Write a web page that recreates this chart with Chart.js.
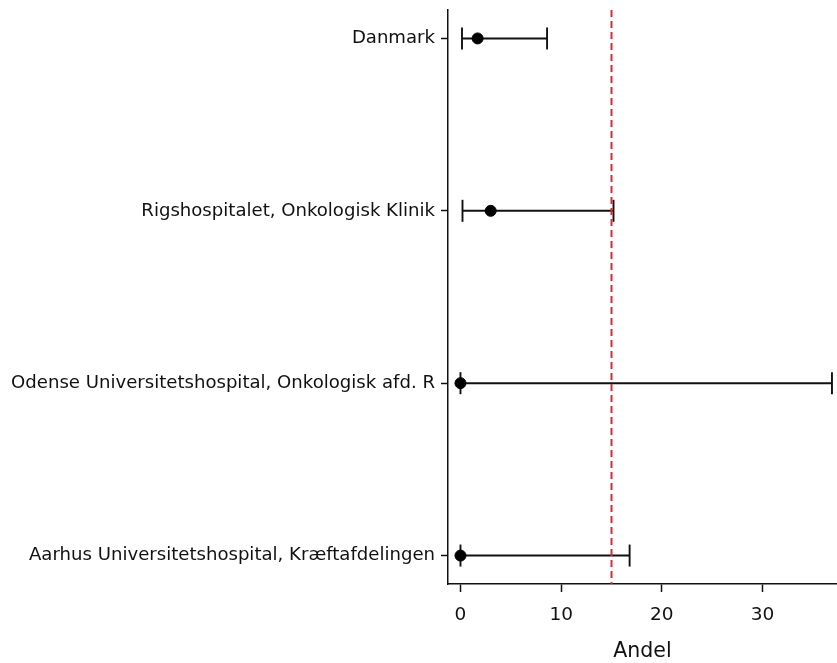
<!DOCTYPE html>
<html>
<head>
<meta charset="utf-8">
<script src="https://cdn.jsdelivr.net/npm/chart.js@4"></script>
<style>
html,body{margin:0;padding:0;background:#fff;}
#c{display:block;}
</style>
</head>
<body>
<canvas id="c" width="837" height="663"></canvas>
<script>
const categories = [
  "Danmark",
  "Rigshospitalet, Onkologisk Klinik",
  "Odense Universitetshospital, Onkologisk afd. R",
  "Aarhus Universitetshospital, Kræftafdelingen"
];
const estimates = [1.7, 3.0, 0, 0];
const lowerCI = [0.15, 0.2, 0, 0];
const upperCI = [8.6, 15.2, 36.9, 16.8];
const referenceValue = 15;
const xTicks = [0, 10, 20, 30];
const xTitle = "Andel";

const FONT = "'DejaVu Sans', sans-serif";
const yMin = -0.165, yMax = categories.length - 1 + 0.165;

const datasets = [];
categories.forEach((c, i) => {
  datasets.push({
    type: 'line',
    data: [{x: lowerCI[i], y: i}, {x: upperCI[i], y: i}],
    borderColor: '#111',
    borderWidth: 1.9,
    pointStyle: 'line',
    rotation: 90,
    pointRadius: 11,
    pointBorderWidth: 1.9,
    pointBorderColor: '#111',
    showLine: true,
    clip: false,
    order: 2
  });
});
datasets.push({
  type: 'scatter',
  data: estimates.map((v, i) => ({x: v, y: i})),
  backgroundColor: '#000',
  borderColor: '#000',
  pointRadius: 5.5,
  clip: false,
  order: 1
});
datasets.push({
  type: 'line',
  data: [{x: referenceValue, y: yMin}, {x: referenceValue, y: yMax}],
  borderColor: '#e8262a',
  borderWidth: 2,
  borderDash: [7, 4],
  pointRadius: 0,
  order: 0
});

new Chart(document.getElementById('c'), {
  type: 'scatter',
  data: { datasets },
  options: {
    responsive: false,
    animation: false,
    devicePixelRatio: 1,
    layout: { autoPadding: false, padding: { top: 10, right: 0, left: 0, bottom: 0 } },
    plugins: { legend: { display: false }, tooltip: { enabled: false } },
    scales: {
      x: {
        type: 'linear',
        min: -1.24,
        max: 37.4,
        afterBuildTicks: s => { s.ticks = xTicks.map(v => ({value: v})); },
        afterFit: s => { s.height = 79; s.paddingLeft = 0; s.paddingRight = 0; },
        grid: { display: true, drawOnChartArea: false, drawTicks: true, tickLength: 8, color: '#111', tickWidth: 1.5 },
        border: { display: true, color: '#111', width: 1.5 },
        ticks: { color: '#111', font: { family: FONT, size: 18.5 }, padding: 12, maxRotation: 0 },
        title: { display: true, text: xTitle, color: '#111', font: { family: FONT, size: 20.5 }, padding: { top: 6, bottom: -1 } }
      },
      y: {
        type: 'linear',
        min: yMin,
        max: yMax,
        reverse: true,
        afterBuildTicks: s => { s.ticks = categories.map((c, i) => ({value: i})); },
        afterFit: s => { s.width = 448; s.paddingTop = 0; s.paddingBottom = 0; },
        grid: { display: true, drawOnChartArea: false, drawTicks: true, tickLength: 7, color: '#111', tickWidth: 1.5 },
        border: { display: true, color: '#111', width: 1.5 },
        ticks: { color: '#111', font: { family: FONT, size: 18.1 }, padding: 6, autoSkip: false,
          callback: v => categories[v] !== undefined ? categories[v] : '' }
      }
    }
  }
});
</script>
</body>
</html>
